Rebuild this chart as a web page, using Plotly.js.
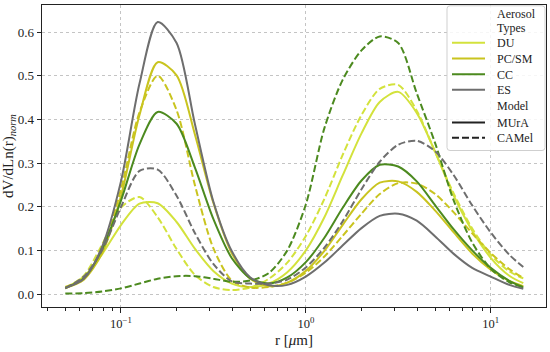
<!DOCTYPE html>
<html>
<head>
<meta charset="utf-8">
<script src="https://cdn.plot.ly/plotly-3.0.1.min.js"></script>
<style>html,body{margin:0;padding:0;background:#fff;}#chart{width:550px;height:352px;}</style>
</head>
<body>
<div id="chart"></div>
<script>
// radius grid [µm]
const r = [0.05, 0.063, 0.079, 0.1, 0.126, 0.158, 0.2, 0.251, 0.316, 0.398, 0.501, 0.631, 0.794, 1.0, 1.26, 1.58, 2.0, 2.51, 3.16, 3.98, 5.01, 6.31, 7.94, 10.0, 12.6, 15.0];

// MUrA (solid)
const muraDU   = [0.013, 0.040, 0.091, 0.158, 0.207, 0.208, 0.165, 0.104, 0.053, 0.024, 0.016, 0.024, 0.050, 0.100, 0.176, 0.271, 0.368, 0.440, 0.463, 0.415, 0.325, 0.225, 0.145, 0.083, 0.042, 0.025];
const muraPCSM = [0.014, 0.033, 0.093, 0.224, 0.410, 0.531, 0.501, 0.366, 0.209, 0.093, 0.035, 0.018, 0.026, 0.053, 0.099, 0.158, 0.217, 0.255, 0.258, 0.234, 0.191, 0.141, 0.093, 0.056, 0.030, 0.018];
const muraCC   = [0.014, 0.036, 0.102, 0.214, 0.343, 0.417, 0.390, 0.290, 0.172, 0.082, 0.036, 0.024, 0.038, 0.073, 0.129, 0.197, 0.260, 0.296, 0.292, 0.258, 0.203, 0.148, 0.100, 0.060, 0.030, 0.015];
const muraES   = [0.014, 0.035, 0.108, 0.258, 0.482, 0.623, 0.575, 0.390, 0.212, 0.098, 0.038, 0.020, 0.021, 0.040, 0.072, 0.111, 0.151, 0.179, 0.184, 0.168, 0.132, 0.092, 0.060, 0.040, 0.021, 0.012];

// CAMel (dashed)
const camelDU   = [0.013, 0.042, 0.113, 0.198, 0.222, 0.176, 0.103, 0.044, 0.016, 0.009, 0.015, 0.035, 0.072, 0.133, 0.218, 0.318, 0.410, 0.470, 0.479, 0.420, 0.325, 0.230, 0.150, 0.090, 0.052, 0.036];
const camelPCSM = [0.016, 0.037, 0.100, 0.240, 0.416, 0.500, 0.421, 0.250, 0.105, 0.031, 0.015, 0.016, 0.026, 0.049, 0.086, 0.133, 0.184, 0.229, 0.254, 0.253, 0.229, 0.187, 0.139, 0.094, 0.057, 0.037];
const camelCC   = [0.001, 0.002, 0.006, 0.013, 0.024, 0.035, 0.041, 0.041, 0.035, 0.028, 0.031, 0.048, 0.100, 0.205, 0.380, 0.490, 0.558, 0.590, 0.575, 0.460, 0.345, 0.214, 0.118, 0.058, 0.027, 0.016];
const camelES   = [0.013, 0.040, 0.100, 0.199, 0.282, 0.285, 0.225, 0.140, 0.069, 0.029, 0.024, 0.024, 0.033, 0.061, 0.106, 0.166, 0.240, 0.303, 0.342, 0.351, 0.327, 0.272, 0.203, 0.141, 0.090, 0.062];

const types = ['DU', 'PC/SM', 'CC', 'ES'];
const colors = {'DU': '#d3e23c', 'PC/SM': '#c9c41f', 'CC': '#4c8a1f', 'ES': '#6e6e6e'};
const xTickVals = [0.1, 1, 10];
const xTickText = ['10<sup>\u22121</sup>', '10<sup>0</sup>', '10<sup>1</sup>'];
const xMinorVals = [0.04, 0.05, 0.06, 0.07, 0.08, 0.09, 0.2, 0.3, 0.4, 0.5, 0.6, 0.7, 0.8, 0.9, 2, 3, 4, 5, 6, 7, 8, 9, 20];
const yTickVals = [0, 0.1, 0.2, 0.3, 0.4, 0.5, 0.6];

// legend content
const legendHeader1 = ['Aerosol', 'Types'];
const legendHeader2 = 'Model';
const models = ['MUrA', 'CAMel'];

const mura = {'DU': muraDU, 'PC/SM': muraPCSM, 'CC': muraCC, 'ES': muraES};
const camel = {'DU': camelDU, 'PC/SM': camelPCSM, 'CC': camelCC, 'ES': camelES};

const DASH = '7px,3px';
const traces = [];
types.forEach(t => {
  traces.push({x: r, y: mura[t], type: 'scatter', mode: 'lines', name: t + ' MUrA', showlegend: false,
    line: {color: colors[t], width: 2, shape: 'spline', smoothing: 0.8}, hoverinfo: 'skip'});
  traces.push({x: r, y: camel[t], type: 'scatter', mode: 'lines', name: t + ' CAMel', showlegend: false,
    line: {color: colors[t], width: 2, dash: DASH, shape: 'spline', smoothing: 0.8}, hoverinfo: 'skip'});
});

const FONT = 'Liberation Serif, Times New Roman, serif';

// ---- manual legend box (paper coordinates; plot area 504 x 302 px) ----
const PW = 504, PH = 302, ML = 42, MT = 5;
const px = v => (v - ML) / PW;
const py = v => 1 - (v - MT) / PH;
const shapes = [];
const annotations = [];
(function () {
  const x0 = px(447), x1 = px(545), y0 = py(150.5), y1 = py(5.8);
  const rx = 3 / PW, ry = 3 / PH;
  shapes.push({type: 'path', xref: 'paper', yref: 'paper', layer: 'above',
    path: `M ${x0 + rx},${y1} L ${x1 - rx},${y1} Q ${x1},${y1} ${x1},${y1 - ry} L ${x1},${y0 + ry} Q ${x1},${y0} ${x1 - rx},${y0} L ${x0 + rx},${y0} Q ${x0},${y0} ${x0},${y0 + ry} L ${x0},${y1 - ry} Q ${x0},${y1} ${x0 + rx},${y1} Z`,
    fillcolor: 'rgba(255,255,255,0.85)', line: {color: '#cfcfcf', width: 1}});
  const lx0 = px(452), lx1 = px(485), tx = px(495.5);
  const addText = (text, yPix) => annotations.push({text: text, xref: 'paper', yref: 'paper', x: tx, y: py(yPix),
    xanchor: 'left', yanchor: 'middle', align: 'left', showarrow: false, borderpad: 0,
    font: {family: FONT, size: 12, color: '#222'}});
  const addLine = (color, dash, yPix) => shapes.push({type: 'line', xref: 'paper', yref: 'paper', layer: 'above',
    x0: lx0, x1: lx1, y0: py(yPix), y1: py(yPix), line: {color: color, width: 2, dash: dash}});
  addText(legendHeader1[0], 14.2);
  addText(legendHeader1[1], 28.4);
  const rowsY = [42.8, 58.6, 74.2, 89.8];
  types.forEach((t, i) => { addLine(colors[t], 'solid', rowsY[i]); addText(t, rowsY[i] + 0.5); });
  addText(legendHeader2, 106.2);
  addLine('#222', 'solid', 122.5); addText(models[0], 123);
  addLine('#222', DASH, 137.8); addText(models[1], 138.3);
})();

const layout = {
  width: 550, height: 352,
  margin: {l: 42, r: 4, t: 5, b: 45},
  paper_bgcolor: '#fff', plot_bgcolor: '#fff',
  font: {family: FONT, color: '#222', size: 12},
  showlegend: false,
  xaxis: {
    type: 'log', range: [-1.427, 1.299], tickmode: 'array', tickvals: xTickVals, ticktext: xTickText,
    ticks: 'outside', ticklen: 5, tickwidth: 1, tickcolor: '#222',
    showline: true, mirror: true, linecolor: '#222', linewidth: 1.3,
    showgrid: true, gridcolor: '#c4c4c4', griddash: 'dot', gridwidth: 1, zeroline: false,
    minor: {tickmode: 'array', tickvals: xMinorVals, ticks: 'outside', ticklen: 3, tickcolor: '#222', showgrid: false},
    tickfont: {size: 12.5, family: FONT},
    title: {text: 'r [<i>\u03bc</i>m]', font: {size: 15, family: FONT}, standoff: 4}
  },
  yaxis: {
    range: [-0.0297, 0.662], tickmode: 'array', tickvals: yTickVals, tickformat: '.1f',
    ticks: 'outside', ticklen: 4, tickwidth: 1, tickcolor: '#222',
    showline: true, mirror: true, linecolor: '#222', linewidth: 1.3,
    showgrid: true, gridcolor: '#c4c4c4', griddash: 'dot', gridwidth: 1, zeroline: false,
    tickfont: {size: 13, family: FONT},
    title: {text: 'dV/dLn(r)<sub><i>norm</i></sub>', font: {size: 15, family: FONT}, standoff: 3}
  },
  shapes: shapes,
  annotations: annotations
};

Plotly.newPlot('chart', traces, layout, {staticPlot: true, displayModeBar: false});
</script>
</body>
</html>
